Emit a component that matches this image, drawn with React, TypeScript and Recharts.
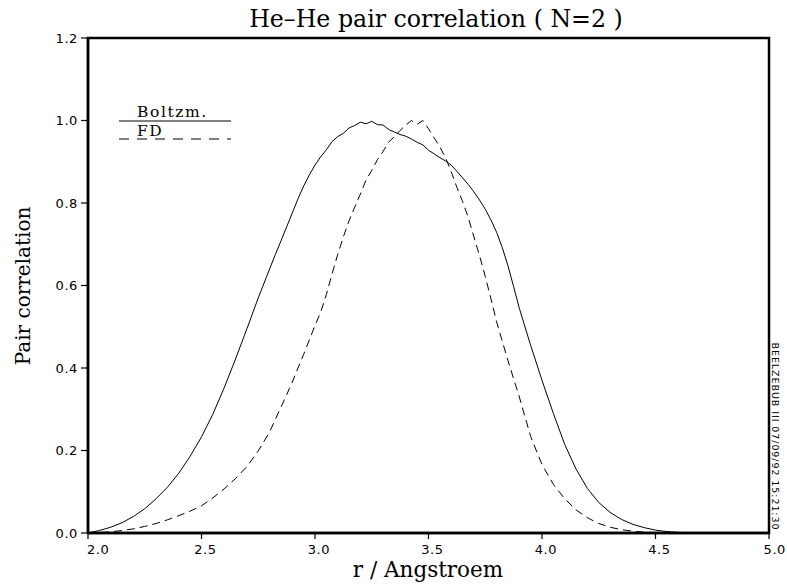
import React from "react";
import { LineChart, Line, XAxis, YAxis, ReferenceArea, Customized } from "recharts";

const rValues = [
  2.0, 2.05, 2.1, 2.15, 2.2, 2.25, 2.3, 2.35, 2.4, 2.45, 2.5, 2.55, 2.6, 2.65, 2.7, 2.75, 2.8,
  2.825, 2.85, 2.875, 2.9, 2.925, 2.95, 2.975, 3.0, 3.025, 3.05, 3.075, 3.1, 3.125, 3.15, 3.175,
  3.2, 3.225, 3.25, 3.275, 3.3, 3.325, 3.35, 3.375, 3.4, 3.425, 3.45, 3.475, 3.5, 3.525, 3.55,
  3.575, 3.6, 3.625, 3.65, 3.675, 3.7, 3.725, 3.75, 3.775, 3.8, 3.825, 3.85, 3.875, 3.9,
  3.95, 4.0, 4.05, 4.1, 4.15, 4.2, 4.25, 4.3, 4.35, 4.4, 4.45, 4.5, 4.55, 4.6, 4.65, 4.7, 4.75,
  4.8, 4.85, 4.9, 4.95, 5.0,
];

const boltzmann = [
  0.0, 0.006, 0.014, 0.025, 0.04, 0.059, 0.083, 0.111, 0.145, 0.186, 0.233, 0.288, 0.352, 0.422, 0.495, 0.57, 0.64,
  0.675, 0.708, 0.742, 0.776, 0.81, 0.841, 0.868, 0.892, 0.912, 0.929, 0.949, 0.961, 0.969, 0.982, 0.988,
  0.996, 0.992, 0.998, 0.99, 0.989, 0.978, 0.972, 0.966, 0.962, 0.955, 0.947, 0.941, 0.928, 0.919, 0.91,
  0.902, 0.892, 0.877, 0.861, 0.845, 0.827, 0.807, 0.785, 0.759, 0.729, 0.692, 0.648, 0.597, 0.545,
  0.455, 0.37, 0.29, 0.215, 0.155, 0.108, 0.074, 0.05, 0.033, 0.021, 0.013, 0.007, 0.0035, 0.0015, 0.0005, 0, 0,
  0, 0, 0, 0, 0,
];

const fd = [
  0.0, 0.001, 0.003, 0.006, 0.01, 0.016, 0.023, 0.032, 0.042, 0.053, 0.066, 0.085, 0.107, 0.132, 0.161, 0.199, 0.245,
  0.275, 0.305, 0.335, 0.366, 0.4, 0.433, 0.468, 0.503, 0.535, 0.578, 0.628, 0.675, 0.718, 0.757, 0.79,
  0.822, 0.856, 0.879, 0.905, 0.925, 0.948, 0.961, 0.976, 0.989, 1.0, 0.991, 1.0, 0.98, 0.958, 0.936,
  0.91, 0.876, 0.838, 0.804, 0.765, 0.718, 0.672, 0.622, 0.568, 0.512, 0.465, 0.418, 0.374, 0.33,
  0.234, 0.166, 0.118, 0.083, 0.056, 0.037, 0.023, 0.014, 0.008, 0.0045, 0.002, 0.001, 0.0005, 0, 0, 0, 0,
  0, 0, 0, 0, 0,
];

const xTicks = [2.0, 2.5, 3.0, 3.5, 4.0, 4.5, 5.0];
const yTicks = [0, 0.2, 0.4, 0.6, 0.8, 1.0, 1.2];

const titleText = "He\u2013He pair correlation ( N=2 )";
const xLabelText = "r / Angstroem";
const yLabelText = "Pair correlation";
const stampText = "BEELZEBUB III 07/09/92 15:21:30";
const seriesNames = ["Boltzm.", "FD"];

const data = rValues.map((r, i) => ({ r, boltzmann: boltzmann[i], fd: fd[i] }));

const serif = "'DejaVu Serif', serif";
const sans = "'DejaVu Sans', sans-serif";

const XTick = (props: any) => {
  const { x, y, payload, index } = props;
  const last = index === xTicks.length - 1;
  const first = index === 0;
  const anchor = first ? "start" : last ? "end" : "middle";
  const tx = first ? x - 1 : last ? 786 : x + 4;
  return (
    <text
      x={tx}
      y={y + 13}
      textAnchor={anchor}
      fontFamily={sans}
      fontSize={13}
      letterSpacing={0.6}
      fill="#000"
    >
      {Number(payload.value).toFixed(1)}
    </text>
  );
};

const YTick = (props: any) => {
  const { x, y, payload } = props;
  return (
    <text
      x={x - 1}
      y={y}
      dy="0.36em"
      textAnchor="end"
      fontFamily={sans}
      fontSize={13}
      letterSpacing={0.6}
      fill="#000"
    >
      {Number(payload.value).toFixed(1)}
    </text>
  );
};

const Decorations = () => (
  <g>
    <text x={436} y={27} textAnchor="middle" fontFamily={serif} fontSize={23.7} fill="#000">
      {titleText}
    </text>
    <text x={428} y={577} textAnchor="middle" fontFamily={serif} fontSize={21.5} fill="#000">
      {xLabelText}
    </text>
    <text
      x={30}
      y={286}
      textAnchor="middle"
      fontFamily={serif}
      fontSize={20}
      fill="#000"
      transform="rotate(-90, 30, 286)"
    >
      {yLabelText}
    </text>
    <text
      x={772}
      y={436}
      textAnchor="middle"
      fontFamily={sans}
      fontSize={9.5}
      textLength={187}
      lengthAdjust="spacing"
      fill="#000"
      transform="rotate(90, 772, 436)"
    >
      {stampText}
    </text>
    {/* legend */}
    <text x={137} y={117} fontFamily={serif} fontSize={15.5} letterSpacing={1.6} fill="#000">
      {seriesNames[0]}
    </text>
    <line x1={119} x2={231} y1={121} y2={121} stroke="#000" strokeWidth={1} />
    <text x={137} y={136} fontFamily={serif} fontSize={15.5} letterSpacing={1.6} fill="#000">
      {seriesNames[1]}
    </text>
    <line x1={119} x2={231} y1={139} y2={139} stroke="#000" strokeWidth={1} strokeDasharray="10 8" />
  </g>
);

export default function App() {
  return (
    <div style={{ position: "absolute", left: 0, top: 0, background: "#fff" }}>
      <LineChart
        width={787}
        height={588}
        data={data}
        margin={{ top: 38, right: 18, bottom: 0, left: 0 }}
      >
        <XAxis
          dataKey="r"
          type="number"
          domain={[2, 5]}
          ticks={xTicks}
          tick={<XTick />}
          tickSize={6}
          height={55}
          axisLine={{ stroke: "#000", strokeWidth: 2.5 }}
          tickLine={{ stroke: "#000", strokeWidth: 1.2 }}
          interval={0}
          allowDataOverflow
        />
        <YAxis
          type="number"
          domain={[0, 1.2]}
          ticks={yTicks}
          tick={<YTick />}
          tickSize={7}
          width={88}
          axisLine={{ stroke: "#000", strokeWidth: 2.5 }}
          tickLine={{ stroke: "#000", strokeWidth: 1.2 }}
          interval={0}
          allowDataOverflow
        />
        <ReferenceArea
          x1={2}
          x2={5}
          y1={0}
          y2={1.2}
          fill="none"
          fillOpacity={0}
          stroke="#000"
          strokeWidth={2.5}
          ifOverflow="visible"
        />
        <Line
          type="linear"
          dataKey="boltzmann"
          name={seriesNames[0]}
          stroke="#000"
          strokeWidth={1}
          dot={false}
          activeDot={false}
          isAnimationActive={false}
        />
        <Line
          type="linear"
          dataKey="fd"
          name={seriesNames[1]}
          stroke="#000"
          strokeWidth={1}
          strokeDasharray="8 5"
          dot={false}
          activeDot={false}
          isAnimationActive={false}
        />
        <Customized component={Decorations} />
      </LineChart>
    </div>
  );
}
